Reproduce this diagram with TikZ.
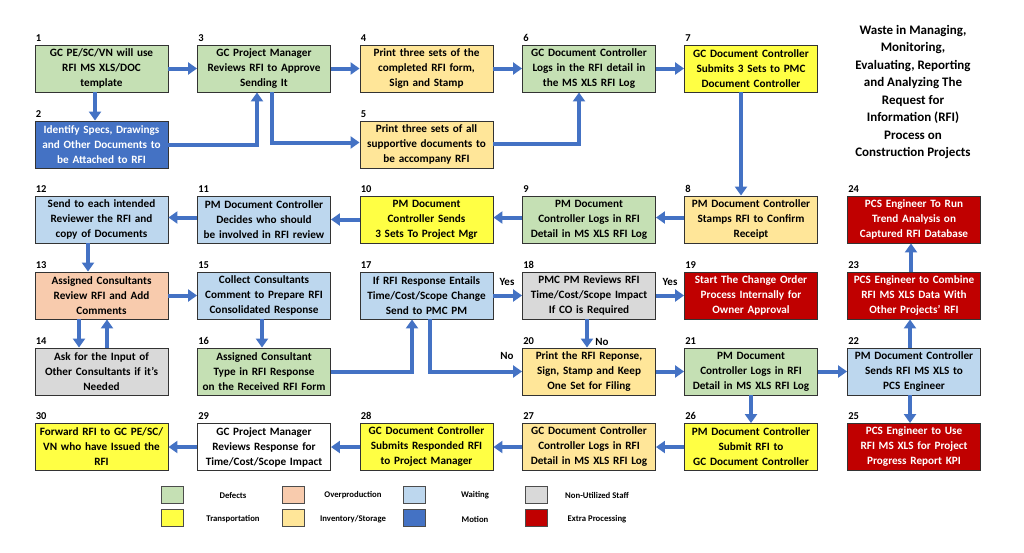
\documentclass[tikz,border=0pt]{standalone}
\usepackage{fontspec}
\setmainfont{Carlito}
\usetikzlibrary{arrows.meta}
\definecolor{cdef}{HTML}{C5E0B4}
\definecolor{cover}{HTML}{F8CBAD}
\definecolor{cwait}{HTML}{BDD7EE}
\definecolor{cstaff}{HTML}{D9D9D9}
\definecolor{ctrans}{HTML}{FFFF44}
\definecolor{cinv}{HTML}{FFE699}
\definecolor{cmot}{HTML}{4472C4}
\definecolor{cextra}{HTML}{C00000}
\definecolor{arrowc}{HTML}{4472C4}
\begin{document}
\begin{tikzpicture}[x=1pt,y=-1pt,
 box/.style={draw=black!80, line width=0.9pt, minimum width=133pt, minimum height=47pt, inner sep=0pt, align=center, text width=132pt, font=\bfseries\fontsize{11.2}{15}\selectfont},
 wtxt/.style={text=white},
 conn/.style={draw=arrowc, line width=4pt, -{Triangle[width=12pt,length=9pt]}},
 num/.style={font=\bfseries\fontsize{10.5}{12}\selectfont, anchor=south west, inner sep=0pt},
 lbl/.style={font=\bfseries\fontsize{11}{12}\selectfont, inner sep=0pt},
 swatch/.style={draw=black!70, line width=0.8pt, minimum width=22pt, minimum height=17pt, inner sep=0pt},
 leg/.style={font=\bfseries\fontsize{8.7}{10}\selectfont, inner sep=0pt}
]
\useasboundingbox[fill=white] (0,0) rectangle (1024,552);

% row 1
\node[box, fill=cdef] (n1) at (101.5,68.5) {GC PE/SC/VN will use\\RFI MS XLS/DOC\\template};
\node[box, fill=cdef] (n3) at (264,68.5) {GC Project Manager\\Reviews RFI to Approve\\Sending It};
\node[box, fill=cinv] (n4) at (426.5,68.5) {Print three sets of the\\completed RFI form,\\Sign and Stamp};
\node[box, fill=cdef] (n6) at (589,68.5) {GC Document Controller\\Logs in the RFI detail in\\the MS XLS RFI Log};
\node[box, fill=ctrans] (n7) at (751,68.5) {GC Document Controller\\Submits 3 Sets to PMC\\Document Controller};
% row 2
\node[box, fill=cmot, wtxt] (n2) at (101.5,144.5) {Identify Specs, Drawings\\and Other Documents to\\be Attached to RFI};
\node[box, fill=cinv] (n5) at (426.5,144.5) {Print three sets of all\\supportive documents to\\be accompany RFI};
% row 3
\node[box, fill=cwait] (n12) at (101.5,219.5) {Send to each intended\\Reviewer the RFI and\\copy of Documents};
\node[box, fill=cwait] (n11) at (264,219.5) {PM Document Controller\\Decides who should\\be involved in RFI review};
\node[box, fill=ctrans] (n10) at (426.5,219.5) {PM Document\\Controller Sends\\3 Sets To Project Mgr};
\node[box, fill=cdef] (n9) at (589,219.5) {PM Document\\Controller Logs in RFI\\Detail in MS XLS RFI Log};
\node[box, fill=cinv] (n8) at (751,219.5) {PM Document Controller\\Stamps RFI to Confirm\\Receipt};
\node[box, fill=cextra, wtxt] (n24) at (914,219.5) {PCS Engineer To Run\\Trend Analysis on\\Captured RFI Database};
% row 4
\node[box, fill=cover] (n13) at (101.5,295.5) {Assigned Consultants\\Review RFI and Add\\Comments};
\node[box, fill=cwait] (n15) at (264,295.5) {Collect Consultants\\Comment to Prepare RFI\\Consolidated Response};
\node[box, fill=cwait] (n17) at (426.5,295.5) {If RFI Response Entails\\Time/Cost/Scope Change\\Send to PMC PM};
\node[box, fill=cstaff] (n18) at (589,295.5) {PMC PM Reviews RFI\\Time/Cost/Scope Impact\\If CO is Required};
\node[box, fill=cextra, wtxt] (n19) at (751,295.5) {Start The Change Order\\Process Internally for\\Owner Approval};
\node[box, fill=cextra, wtxt] (n23) at (914,295.5) {PCS Engineer to Combine\\RFI MS XLS Data With\\Other Projects' RFI};
% row 5
\node[box, fill=cstaff] (n14) at (101.5,371.5) {Ask for the Input of\\Other Consultants if it's\\Needed};
\node[box, fill=cdef] (n16) at (264,371.5) {Assigned Consultant\\Type in RFI Response\\on the Received RFI Form};
\node[box, fill=cinv] (n20) at (589,371.5) {Print the RFI Reponse,\\Sign, Stamp and Keep\\One Set for Filing};
\node[box, fill=cdef] (n21) at (751,371.5) {PM Document\\Controller Logs in RFI\\Detail in MS XLS RFI Log};
\node[box, fill=cwait] (n22) at (914,371.5) {PM Document Controller\\Sends RFI MS XLS to\\PCS Engineer};
% row 6
\node[box, fill=ctrans] (n30) at (101.5,447) {Forward RFI to GC PE/SC/\\VN who have Issued the\\RFI};
\node[box, fill=white] (n29) at (264,447) {GC Project Manager\\Reviews Response for\\Time/Cost/Scope Impact};
\node[box, fill=ctrans] (n28) at (426.5,447) {GC Document Controller\\Submits Responded RFI\\to Project Manager};
\node[box, fill=cinv] (n27) at (589,447) {GC Document Controller\\Controller Logs in RFI\\Detail in MS XLS RFI Log};
\node[box, fill=ctrans] (n26) at (751,447) {PM Document Controller\\Submit RFI to\\GC Document Controller};
\node[box, fill=cextra, wtxt] (n25) at (914,447) {PCS Engineer to Use\\RFI MS XLS for Project\\Progress Report KPI};

% numbers
\foreach \n in {1,...,30}{
  \node[num] (num\n) at ([xshift=1pt,yshift=3pt]n\n.north west) {\n};
}

% connectors
\draw[conn] (n1.east) -- (n3.west);
\draw[conn] ([xshift=-6.5pt]n1.south) -- ([xshift=-6.5pt]n2.north);
\draw[conn] (n2.east) -| ([xshift=-7pt]n3.south);
\draw[conn] ([xshift=8pt]n3.south) |- ([yshift=2pt]n5.west);
\draw[conn] (n3.east) -- (n4.west);
\draw[conn] (n4.east) -- (n6.west);
\draw[conn] ([yshift=1pt]n5.east) -| ([xshift=-10pt]n6.south);
\draw[conn] (n6.east) -- (n7.west);
\draw[conn] ([xshift=-10pt]n7.south) -- ([xshift=-10pt]n8.north);
\draw[conn] ([yshift=2pt]n8.west) -- ([yshift=2pt]n9.east);
\draw[conn] ([yshift=2pt]n9.west) -- ([yshift=2pt]n10.east);
\draw[conn] (n10.west) -- (n11.east);
\draw[conn] ([yshift=2pt]n11.west) -- ([yshift=2pt]n12.east);
\draw[conn] ([xshift=-13.5pt]n12.south) -- ([xshift=-13.5pt]n13.north);
\draw[conn] (n13.east) -- (n15.west);
\draw[conn] ([xshift=-22.5pt]n13.south) -- ([xshift=-22.5pt]n14.north);
\draw[conn] ([xshift=5.5pt]n14.north) -- ([xshift=5.5pt]n13.south);
\draw[conn] ([xshift=-2pt]n15.south) -- ([xshift=-2pt]n16.north);
\draw[conn] (n16.east) -| ([xshift=-14.5pt]n17.south);
\draw[conn] ([xshift=3.5pt]n17.south) |- (n20.west);
\draw[conn] (n17.east) -- (n18.west);
\draw[conn] (n18.east) -- (n19.west);
\draw[conn] ([xshift=-2pt]n18.south) -- ([xshift=-2pt]n20.north);
\draw[conn] (n20.east) -- (n21.west);
\draw[conn] (n21.east) -- (n22.west);
\draw[conn] (n21.south) -- (n26.north);
\draw[conn] ([xshift=-4pt]n22.south) -- ([xshift=-4pt]n25.north);
\draw[conn] ([xshift=-4pt]n22.north) -- ([xshift=-4pt]n23.south);
\draw[conn] ([xshift=-3pt]n23.north) -- ([xshift=-3pt]n24.south);
\draw[conn] (n26.west) -- (n27.east);
\draw[conn] (n27.west) -- (n28.east);
\draw[conn] (n28.west) -- (n29.east);
\draw[conn] (n29.west) -- (n30.east);

% decision labels
\node[lbl] (yes1) at (507,282) {Yes};
\node[lbl] (yes2) at (670,282) {Yes};
\node[lbl] (no1) at (507,356) {No};
\node[lbl] (no2) at (602,342) {No};

% title
\node[font=\bfseries\fontsize{13}{17.5}\selectfont, align=center, inner sep=0pt] (title) at (913,92) {Waste in Managing,\\Monitoring,\\Evaluating, Reporting\\and Analyzing The\\Request for\\Information (RFI)\\Process on\\Construction Projects};

% legend
\node[swatch, fill=cdef] (s1) at (172,494.5) {};
\node[swatch, fill=cover] (s2) at (293,494.5) {};
\node[swatch, fill=cwait] (s3) at (414,494.5) {};
\node[swatch, fill=cstaff] (s4) at (536,494.5) {};
\node[swatch, fill=ctrans] (s5) at (172,518) {};
\node[swatch, fill=cinv] (s6) at (293,518) {};
\node[swatch, fill=cmot] (s7) at (414,518) {};
\node[swatch, fill=cextra] (s8) at (536,518) {};
\node[leg] (t1) at (233,495) {Defects};
\node[leg] (t2) at (353,495) {Overproduction};
\node[leg] (t3) at (475,495) {Waiting};
\node[leg] (t4) at (597,495) {Non-Utilized Staff};
\node[leg] (t5) at (233,519) {Transportation};
\node[leg] (t6) at (353,519) {Inventory/Storage};
\node[leg] (t7) at (475,519) {Motion};
\node[leg] (t8) at (597,519) {Extra Processing};
\end{tikzpicture}
\end{document}
